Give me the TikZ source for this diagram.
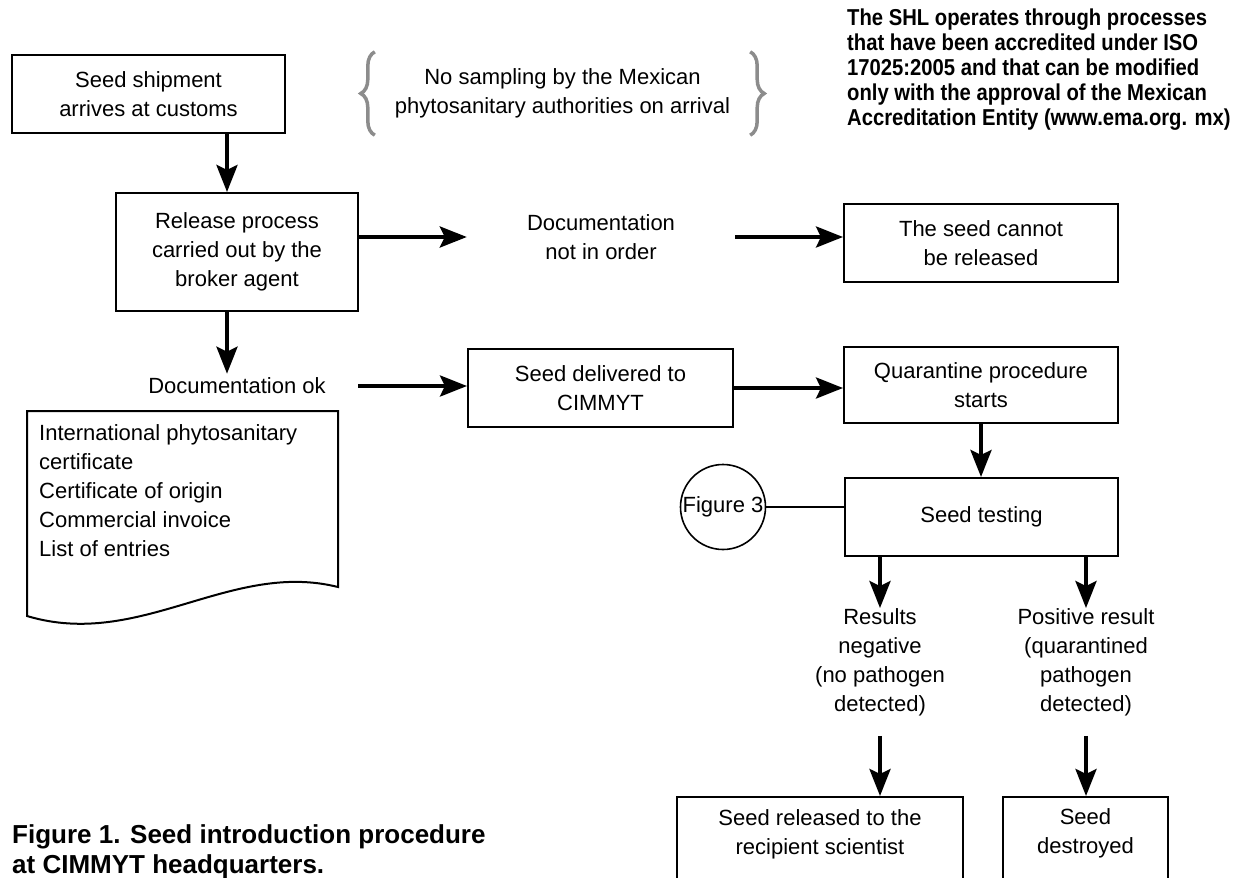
\documentclass[tikz,border=0pt]{standalone}
\usepackage{fontspec}
\setmainfont{Liberation Sans}
\newfontfamily\narrowbold{Liberation Sans}[FakeStretch=0.88]
\usetikzlibrary{arrows.meta,positioning,decorations.pathreplacing}

\begin{document}
\begin{tikzpicture}[x=1pt,y=-1pt,
  every node/.style={font=\fontsize{22pt}{29pt}\selectfont},
  box/.style={draw,line width=2pt,align=center,inner sep=0pt,minimum width=#1,minimum height=78pt},
  lbl/.style={align=center,inner sep=0pt},
  arr/.style={-{Stealth[length=27pt,width=21pt,inset=5pt]},line width=4pt},
  curly/.style={decorate,decoration={brace,amplitude=14pt},line width=3.5pt,draw=black!45}]
  \clip (0,0) rectangle (1256,878);

  % main column
  \node[box=273pt] (shipment) at (148.5,94) {Seed shipment\\arrives at customs};
  \node[box=242pt,minimum height=118pt] (release) at (237,252) {Release process\\carried out by the\\broker agent};
  \node[lbl,minimum width=242pt,inner ysep=4pt] (docok) at (237,386) {Documentation ok};

  % note with braces
  \node[lbl,minimum width=375pt,minimum height=83pt] (note) at (562.5,93.5) {No sampling by the Mexican\\phytosanitary authorities on arrival};
  \draw[curly] (note.south west) -- (note.north west);
  \draw[curly] (note.north east) -- (note.south east);

  \node[lbl,anchor=north west,align=left,font=\narrowbold\bfseries\fontsize{23pt}{25pt}\selectfont] (shl) at (847,9)
    {The SHL operates through processes\\that have been accredited under ISO\\17025:2005 and that can be modified\\only with the approval of the Mexican\\Accreditation Entity (www.ema.org. mx)};

  \node[lbl,minimum width=268pt] (notorder) at (601,237) {Documentation\\not in order};
  \node[box=274pt] (cannot) at (981,243) {The seed cannot\\be released};
  \node[box=265pt] (delivered) at (600.5,388) {Seed delivered to\\CIMMYT};
  \node[box=274pt,minimum height=76pt] (quarantine) at (981,385) {Quarantine procedure\\starts};
  \node[box=273pt] (testing) at (981.5,517) {Seed testing};
  \node[draw,circle,line width=1.6pt,minimum size=85pt,inner sep=0pt] (fig3) at (723,507) {Figure 3};

  \node[lbl] (negative) at (880,662) {Results\\negative\\(no pathogen\\detected)};
  \node[lbl] (positive) at (1086,662) {Positive result\\(quarantined\\pathogen\\detected)};
  \node[box=286pt,minimum height=110pt,anchor=north] (releasedbox) at (820,796) {};
  \node[lbl] (released) at (820,834) {Seed released to the\\recipient scientist};
  \node[box=165pt,minimum height=110pt,anchor=north] (destroyedbox) at (1085.5,796) {};
  \node[lbl] (destroyed) at (1085.5,833) {Seed\\destroyed};

  % document
  \draw[line width=2pt] (27,411) -- (338,411) -- (338,587) .. controls (230,560) and (140,650) .. (27,616) -- cycle;
  \node[lbl,anchor=north west,align=left] (doclist) at (39,424)
    {International phytosanitary\\certificate\\Certificate of origin\\Commercial invoice\\List of entries};

  \node[lbl,anchor=north west,align=left,font=\bfseries\fontsize{26pt}{30pt}\selectfont] (caption) at (12,824)
    {Figure 1. Seed introduction procedure\\at CIMMYT headquarters.};

  % arrows
  \draw[arr] ([xshift=-10pt]release.north |- shipment.south) -- ([xshift=-10pt]release.north);
  \draw[arr] (release.east |- notorder.west) -- (notorder.west);
  \draw[arr] (notorder.east) -- (cannot.west |- notorder.east);
  \draw[arr] ([xshift=-10pt]release.south) -- ([xshift=-10pt]docok.north);
  \draw[arr] (docok.east) -- (delivered.west |- docok.east);
  \draw[arr] (delivered.east) -- (quarantine.west |- delivered.east);
  \draw[arr] (quarantine.south) -- (quarantine.south |- testing.north);
  \draw[line width=1.5pt] (fig3.east) -- (fig3.east -| testing.west);
  \draw[arr] (testing.south -| negative.north) -- (negative.north);
  \draw[arr] (testing.south -| positive.north) -- (positive.north);
  \draw[arr] ([yshift=-20pt]negative.south) -- (negative.south |- releasedbox.north);
  \draw[arr] ([yshift=-20pt]positive.south) -- (positive.south |- destroyedbox.north);
\end{tikzpicture}
\end{document}
